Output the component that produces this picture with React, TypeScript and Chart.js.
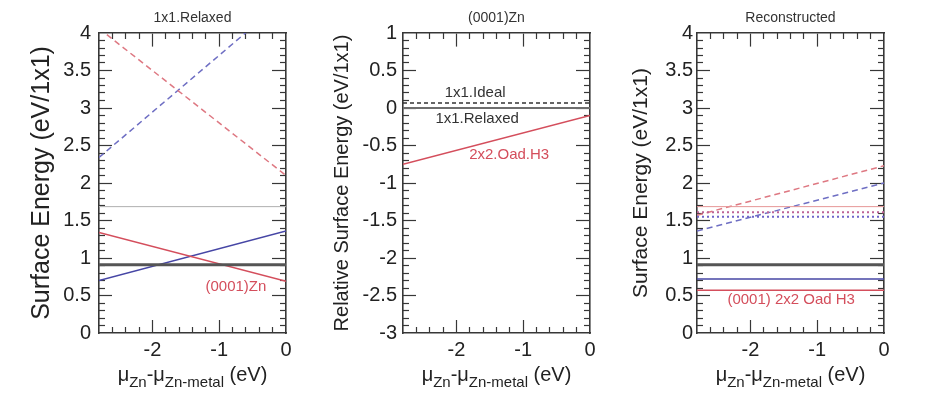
import React, { useEffect, useRef } from "react";
import { Chart, registerables } from "chart.js";
Chart.register(...registerables);

const FONT = "'Liberation Sans', Arial, Helvetica, sans-serif";

// ---------- shared x axis ----------
const xRange = [-2.8, 0];
const xTicks = [-2, -1, 0];

// ---------- panel 1 : 1x1.Relaxed ----------
const p1Title = "1x1.Relaxed";
const p1YTitle = "Surface Energy (eV/1x1)";
const p1YRange = [0, 4];
const p1YTicks = [0, 0.5, 1, 1.5, 2, 2.5, 3, 3.5, 4];
const p1Black = [0.91, 0.91];
const p1GrayThin = [1.685, 1.685];
const p1RedDashed = [4.06, 2.1];
const p1BlueDashed = [2.34, 4.46];
const p1RedSolid = [1.34, 0.69];
const p1BlueSolid = [0.7, 1.36];
const p1LabelText = "(0001)Zn";
const p1LabelPos = [-0.75, 0.615];

// ---------- panel 2 : (0001)Zn ----------
const p2Title = "(0001)Zn";
const p2YTitle = "Relative Surface Energy (eV/1x1)";
const p2YRange = [-3, 1];
const p2YTicks = [-3, -2.5, -2, -1.5, -1, -0.5, 0, 0.5, 1];
const p2Ideal = [0.067, 0.067];
const p2Relaxed = [0, 0];
const p2Oad = [-0.75, -0.1];
const p2Labels = ["1x1.Ideal", "1x1.Relaxed", "2x2.Oad.H3"];
const p2LabelX = [-1.72, -1.69, -1.21];
const p2LabelY = [0.2, -0.14, -0.63];

// ---------- panel 3 : Reconstructed ----------
const p3Title = "Reconstructed";
const p3YTitle = "Surface Energy (eV/1x1)";
const p3YRange = [0, 4];
const p3YTicks = [0, 0.5, 1, 1.5, 2, 2.5, 3, 3.5, 4];
const p3Black = [0.91, 0.91];
const p3BlueSolid = [0.72, 0.72];
const p3RedSolid = [0.57, 0.57];
const p3RedThin = [1.685, 1.685];
const p3RedDotted = [1.61, 1.61];
const p3BlueDotted = [1.55, 1.55];
const p3RedDashed = [1.57, 2.23];
const p3BlueDashed = [1.36, 2.0];
const p3LabelText = "(0001) 2x2 Oad H3";
const p3LabelPos = [-1.39, 0.44];

// ---------- styles ----------
const RED = "rgb(212,78,92)";
const BLUE = "rgb(70,70,165)";
const RED_D = "rgb(222,120,130)";
const BLUE_D = "rgb(110,110,195)";
const BLACK = "rgb(85,85,85)";
const AXIS = "rgb(55,55,55)";

type Style = { color: string; width: number; dash?: number[] };
const solid = (color: string, width: number): Style => ({ color, width });
const dashed = (color: string, width: number, dash: number[]): Style => ({ color, width, dash });

function series(ys: number[], st: Style) {
  return {
    data: xRange.map((x, i) => ({ x, y: ys[i] })),
    xAxisID: "x",
    yAxisID: "y",
    showLine: true,
    borderColor: st.color,
    backgroundColor: st.color,
    borderWidth: st.width,
    borderDash: st.dash || [],
    pointRadius: 0,
    fill: false,
  };
}

// positions of the inward minor/major tick marks
function stepValues(min: number, max: number, step: number): number[] {
  const out: number[] = [];
  const eps = 1e-6;
  for (let i = Math.ceil(min / step - eps); i <= Math.floor(max / step + eps); i++) {
    const v = +(i * step).toFixed(6);
    if (v > min + eps && v < max - eps) out.push(v);
  }
  return out;
}
const isMajorX = (v: number) => Math.abs(v - Math.round(v)) < 1e-6;
const isMajorY = (v: number) => Math.abs(v * 2 - Math.round(v * 2)) < 1e-6;

// Mirror axis pinned to one edge of the plot (object position) that draws only
// an edge line and inward tick marks.
function edgeAxis(
  axis: "x" | "y",
  pin: Record<string, number>,
  inwardSign: number,
  min: number,
  max: number,
  step: number,
  major: (v: number) => boolean,
  long: boolean,
  showBorder: boolean,
) {
  return {
    type: "linear",
    axis,
    position: pin,
    min,
    max,
    afterBuildTicks: (s: any) => {
      s.ticks = stepValues(min, max, step).filter((v) => major(v) === long).map((v) => ({ value: v }));
    },
    afterFit: (s: any) => {
      if (axis === "x") s.height = 0; else s.width = 0;
    },
    ticks: { display: false },
    grid: {
      display: true,
      drawOnChartArea: false,
      drawTicks: true,
      tickLength: inwardSign * (long ? 13 : 6),
      tickColor: AXIS,
      tickWidth: 1.2,
    },
    border: { display: showBorder, color: AXIS, width: 1.6 },
  };
}

const panelText = {
  id: "panelText",
  afterDraw(chart: any, _args: any, opts: any) {
    const { ctx, chartArea: a, scales } = chart;
    const cx = (a.left + a.right) / 2;
    ctx.save();
    ctx.fillStyle = "#333";
    ctx.font = `14px ${FONT}`;
    ctx.textAlign = "center";
    ctx.textBaseline = "middle";
    ctx.fillText(opts.title, cx, 18);
    ctx.font = `15px ${FONT}`;
    for (const an of opts.annotations) {
      ctx.fillStyle = an.color;
      ctx.fillText(an.text, scales.x.getPixelForValue(an.x), scales.y.getPixelForValue(an.y));
    }
    const parts: [string, boolean][] = [["\u03bc", false], ["Zn", true], ["-\u03bc", false], ["Zn-metal", true], [" (eV)", false]];
    const mainF = `20px ${FONT}`, subF = `15px ${FONT}`;
    let total = 0;
    for (const [t, sub] of parts) { ctx.font = sub ? subF : mainF; total += ctx.measureText(t).width; }
    let px = cx - total / 2;
    ctx.textAlign = "left";
    ctx.textBaseline = "alphabetic";
    ctx.fillStyle = "#222";
    for (const [t, sub] of parts) {
      ctx.font = sub ? subF : mainF;
      ctx.fillText(t, px, sub ? 387 : 381);
      px += ctx.measureText(t).width;
    }
    ctx.restore();
  },
};

type PanelProps = {
  left: number;
  width: number;
  yAxisWidth: number;
  padRight: number;
  yTitle: string;
  yTitleSize: number;
  yTitlePad: number;
  tickPad: number;
  yRange: number[];
  yTicks: number[];
  datasets: any[];
  title: string;
  annotations: { text: string; x: number; y: number; color: string }[];
};

function Panel(p: PanelProps) {
  const ref = useRef<HTMLCanvasElement>(null);
  useEffect(() => {
    const canvas = ref.current!;
    const [x0, x1] = xRange;
    const [y0, y1] = p.yRange;
    const chart = new Chart(canvas, {
      type: "scatter",
      data: { datasets: p.datasets },
      plugins: [panelText],
      options: {
        animation: false,
        responsive: false,
        devicePixelRatio: 1,
        layout: { padding: { left: 0, right: p.padRight, top: 33, bottom: 0 } },
        plugins: {
          legend: { display: false },
          tooltip: { enabled: false },
          panelText: { title: p.title, annotations: p.annotations },
        } as any,
        scales: {
          x: {
            type: "linear",
            position: "bottom",
            min: x0,
            max: x1,
            afterBuildTicks: (s: any) => { s.ticks = xTicks.map((v) => ({ value: v })); },
            afterFit: (s: any) => { s.height = 67; },
            ticks: { callback: (v: any) => String(v), font: { size: 20, family: FONT }, color: "#222", padding: 5, maxRotation: 0 },
            grid: { display: false, drawTicks: false },
            border: { display: true, color: AXIS, width: 1.6 },
          },
          y: {
            type: "linear",
            position: "left",
            min: y0,
            max: y1,
            afterBuildTicks: (s: any) => { s.ticks = p.yTicks.map((v) => ({ value: v })); },
            afterFit: (s: any) => { s.width = p.yAxisWidth; },
            ticks: { callback: (v: any) => String(v), font: { size: 20, family: FONT }, color: "#222", padding: p.tickPad },
            grid: { display: false, drawTicks: false },
            border: { display: true, color: AXIS, width: 1.6 },
            title: { display: true, text: p.yTitle, color: "#222", font: { size: p.yTitleSize, family: FONT }, padding: { top: p.yTitlePad, bottom: 0 } },
          },
          // inward ticks: bottom & top edges
          xbM: edgeAxis("x", { y: y0 }, -1, x0, x1, 0.2, isMajorX, true, false),
          xbm: edgeAxis("x", { y: y0 }, -1, x0, x1, 0.2, isMajorX, false, false),
          xtM: edgeAxis("x", { y: y1 }, 1, x0, x1, 0.2, isMajorX, true, true),
          xtm: edgeAxis("x", { y: y1 }, 1, x0, x1, 0.2, isMajorX, false, false),
          // inward ticks: left & right edges
          ylM: edgeAxis("y", { x: x0 }, -1, y0, y1, 0.1, isMajorY, true, false),
          ylm: edgeAxis("y", { x: x0 }, -1, y0, y1, 0.1, isMajorY, false, false),
          yrM: edgeAxis("y", { x: x1 }, 1, y0, y1, 0.1, isMajorY, true, true),
          yrm: edgeAxis("y", { x: x1 }, 1, y0, y1, 0.1, isMajorY, false, false),
        },
      } as any,
    });
    return () => chart.destroy();
  }, []);
  return (
    <canvas
      ref={ref}
      width={p.width}
      height={400}
      style={{ position: "absolute", left: p.left, top: 0, width: p.width, height: 400 }}
    />
  );
}

export default function App() {
  const p1Sets = [
    series(p1Black, solid(BLACK, 3)),
    series(p1GrayThin, solid("rgb(175,175,175)", 1)),
    series(p1RedDashed, dashed(RED_D, 1.5, [6, 4])),
    series(p1BlueDashed, dashed(BLUE_D, 1.5, [6, 4])),
    series(p1RedSolid, solid(RED, 1.5)),
    series(p1BlueSolid, solid(BLUE, 1.5)),
  ];
  const p2Sets = [
    series(p2Relaxed, solid("rgb(110,110,110)", 2)),
    series(p2Ideal, dashed("#333", 1.5, [4, 3])),
    series(p2Oad, solid(RED, 1.5)),
  ];
  const p3Sets = [
    series(p3Black, solid(BLACK, 3)),
    series(p3BlueSolid, solid(BLUE, 1.5)),
    series(p3RedSolid, solid(RED, 1.5)),
    series(p3RedThin, solid("rgb(230,150,150)", 1)),
    series(p3RedDotted, dashed("rgb(190,100,150)", 2, [2, 3])),
    series(p3BlueDotted, dashed("rgb(110,100,200)", 2, [2, 3])),
    series(p3RedDashed, dashed(RED_D, 1.5, [6, 4])),
    series(p3BlueDashed, dashed(BLUE_D, 1.5, [6, 4])),
  ];
  return (
    <div style={{ position: "absolute", left: 0, top: 0, width: 934, height: 400, background: "#fff" }}>
      <Panel
        left={0} width={310} yAxisWidth={99} padRight={24}
        yTitle={p1YTitle} yTitleSize={25} yTitlePad={27} tickPad={8}
        yRange={p1YRange} yTicks={p1YTicks} datasets={p1Sets} title={p1Title}
        annotations={[{ text: p1LabelText, x: p1LabelPos[0], y: p1LabelPos[1], color: RED }]}
      />
      <Panel
        left={310} width={310} yAxisWidth={93} padRight={30}
        yTitle={p2YTitle} yTitleSize={20} yTitlePad={20} tickPad={6}
        yRange={p2YRange} yTicks={p2YTicks} datasets={p2Sets} title={p2Title}
        annotations={p2Labels.map((t, i) => ({ text: t, x: p2LabelX[i], y: p2LabelY[i], color: i === 2 ? RED : "#333" }))}
      />
      <Panel
        left={620} width={314} yAxisWidth={77} padRight={50}
        yTitle={p3YTitle} yTitleSize={21} yTitlePad={9} tickPad={4}
        yRange={p3YRange} yTicks={p3YTicks} datasets={p3Sets} title={p3Title}
        annotations={[{ text: p3LabelText, x: p3LabelPos[0], y: p3LabelPos[1], color: RED }]}
      />
    </div>
  );
}
